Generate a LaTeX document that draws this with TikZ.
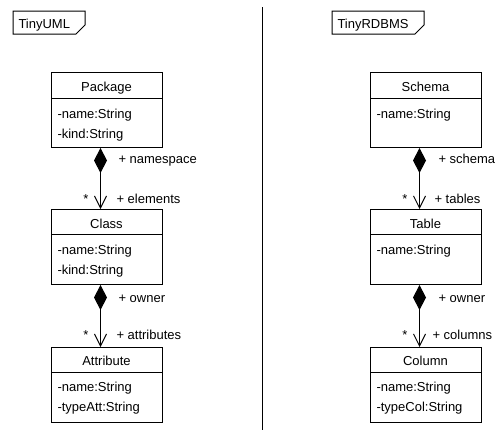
\documentclass[tikz,border=0pt]{standalone}
\usepackage{fontspec}
\setmainfont{Liberation Sans}
\usetikzlibrary{arrows.meta}
\begin{document}
\begin{tikzpicture}[x=1pt,y=-1pt,line width=1pt,
  font=\fontsize{13}{15}\selectfont,
  classbox/.style={draw, minimum width=111pt, minimum height=75pt,
    anchor=north west, inner sep=0pt},
  titletext/.style={anchor=base, inner sep=0pt},
  attrtext/.style={anchor=base west, inner sep=0pt},
  roletext/.style={anchor=base west, inner sep=0pt},
  multtext/.style={anchor=base, inner sep=0pt},
  composition/.style={{Diamond[length=25pt,width=13pt]}-{Straight Barb[length=12pt,width=12pt]}},
  pkgtab/.style={anchor=base west, inner sep=0pt}]
\useasboundingbox (0,0) rectangle (502,432);

% ---------- TinyUML package ----------
\node[pkgtab] (umltab) at (18,28.5) {TinyUML};
\draw (13,11) -- (85,11) -- (85,25) -- (76,34) -- (13,34) -- cycle;

\node[classbox] (pkg) at (51,72) {};
\draw ([yshift=-26pt]pkg.north west) -- ([yshift=-26pt]pkg.north east);
\node[titletext] (pkgT) at (106.5,91) {Package};
\node[attrtext] (pkgA1) at (57,118.5) {-name:String};
\node[attrtext] (pkgA2) at (57,138) {-kind:String};

\node[classbox] (cls) at (51,209) {};
\draw ([yshift=-25pt]cls.north west) -- ([yshift=-25pt]cls.north east);
\node[titletext] (clsT) at (106.5,228) {Class};
\node[attrtext] (clsA1) at (57,254.5) {-name:String};
\node[attrtext] (clsA2) at (57,274) {-kind:String};

\node[classbox] (att) at (51,347) {};
\draw ([yshift=-25pt]att.north west) -- ([yshift=-25pt]att.north east);
\node[titletext] (attT) at (106.5,365) {Attribute};
\node[attrtext] (attA1) at (57,391.5) {-name:String};
\node[attrtext] (attA2) at (57,411) {-typeAtt:String};

\draw[composition] ([xshift=-6.5pt]pkg.south) -- ([xshift=-6.5pt]cls.north);
\node[roletext] (r1) at (118,163) {+ namespace};
\node[multtext] (m1) at (86,203) {*};
\node[roletext] (r2) at (116,203) {+ elements};

\draw[composition] ([xshift=-6.5pt]cls.south) -- ([xshift=-6.5pt]att.north);
\node[roletext] (r3) at (118,302) {+ owner};
\node[multtext] (m2) at (86,339) {*};
\node[roletext] (r4) at (116,339) {+ attributes};

% ---------- separator ----------
\draw (262,7) -- (262,430);

% ---------- TinyRDBMS package ----------
\node[pkgtab] (dbtab) at (337,28.5) {TinyRDBMS};
\draw (332,11) -- (424,11) -- (424,25) -- (415,34) -- (332,34) -- cycle;

\node[classbox] (sch) at (370,72) {};
\draw ([yshift=-26pt]sch.north west) -- ([yshift=-26pt]sch.north east);
\node[titletext] (schT) at (425.5,91) {Schema};
\node[attrtext] (schA1) at (376,118.5) {-name:String};

\node[classbox] (tab) at (370,209) {};
\draw ([yshift=-25pt]tab.north west) -- ([yshift=-25pt]tab.north east);
\node[titletext] (tabT) at (425.5,228) {Table};
\node[attrtext] (tabA1) at (376,254.5) {-name:String};

\node[classbox] (col) at (370,347) {};
\draw ([yshift=-25pt]col.north west) -- ([yshift=-25pt]col.north east);
\node[titletext] (colT) at (425.5,365) {Column};
\node[attrtext] (colA1) at (376,391.5) {-name:String};
\node[attrtext] (colA2) at (376,411) {-typeCol:String};

\draw[composition] ([xshift=-6.5pt]sch.south) -- ([xshift=-6.5pt]tab.north);
\node[roletext] (r5) at (438,163) {+ schema};
\node[multtext] (m3) at (405,203) {*};
\node[roletext] (r6) at (434,203) {+ tables};

\draw[composition] ([xshift=-6.5pt]tab.south) -- ([xshift=-6.5pt]col.north);
\node[roletext] (r7) at (438,302) {+ owner};
\node[multtext] (m4) at (405,339) {*};
\node[roletext] (r8) at (432,339) {+ columns};
\end{tikzpicture}
\end{document}
